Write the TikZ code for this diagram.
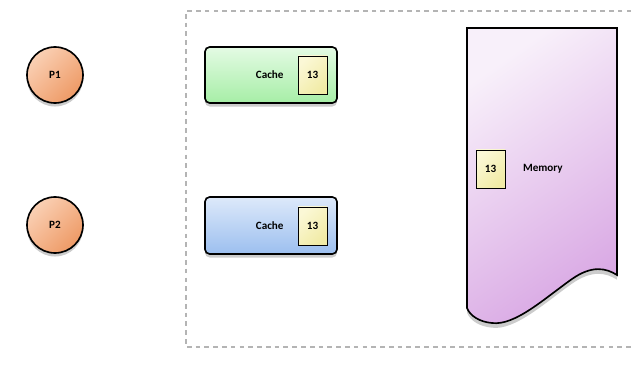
\documentclass[tikz,border=0pt]{standalone}
\usepackage{fontspec}
\setmainfont{Carlito}
\usepackage{tikz}
\usetikzlibrary{positioning}
\usetikzlibrary{shadows}

\definecolor{procA}{HTML}{FAD0B4}
\definecolor{procB}{HTML}{EE9A66}
\definecolor{greenA}{HTML}{E4FBE4}
\definecolor{greenB}{HTML}{A6EEA6}
\definecolor{blueA}{HTML}{DDE9FA}
\definecolor{blueB}{HTML}{9CBFEF}
\definecolor{memA}{HTML}{F8F0FA}
\definecolor{memB}{HTML}{D9A8E4}
\definecolor{valA}{HTML}{FBF8D6}
\definecolor{valB}{HTML}{F1EBA6}
\definecolor{frame}{HTML}{B4B4B4}

\begin{document}
\begin{tikzpicture}[x=0.03cm,y=-0.03cm,line width=1.4pt,
	font=\fontsize{9.5}{11}\selectfont\bfseries,
	proc/.style={circle, draw, minimum size=1.68cm, top color=procA, bottom color=procB, shading angle=45,
		drop shadow={shadow xshift=0pt, shadow yshift=-3pt, opacity=.4}},
	cachebox/.style={draw, rounded corners=4pt, minimum width=3.96cm, minimum height=1.68cm, shading angle=45,
		drop shadow={shadow xshift=0pt, shadow yshift=-3pt, opacity=.4}},
	value/.style={draw, line width=0.7pt, minimum width=0.87cm, minimum height=1.14cm, inner sep=0pt,
		top color=valA, bottom color=valB, shading angle=45}]

	\useasboundingbox (0,0) rectangle (634,368);

	% frame round caches and memory
	\draw[frame, line width=1pt, dash pattern=on 4pt off 3.5pt] (640,11) -- (186,11) -- (186,347) -- (640,347);

	\node[proc] (p1) at (55,75) {P1};
	\node[proc] (p2) at (55,225) {P2};

	\node[cachebox, top color=greenA, bottom color=greenB] (cache1) at (271,75) {};
	\node[value] (val1) at (312.5,75) {13};
	\node[left=8pt of val1] {Cache};

	\node[cachebox, top color=blueA, bottom color=blueB, minimum height=1.71cm] (cache2) at (271,225.5) {};
	\node[value] (val2) at (312.5,226) {13};
	\node[left=8pt of val2] {Cache};

	\path[draw, top color=memA, bottom color=memB, shading angle=35,
		drop shadow={shadow xshift=0pt, shadow yshift=-4pt, opacity=.4}]
		(467,28) -- (617,28) -- (617,275)
		.. controls (606,268) and (592,265) .. (572,279)
		.. controls (545,298) and (515,326) .. (492,323)
		.. controls (480,322) and (470,316) .. (467,308) -- cycle;
	\node[value] (val3) at (490.5,169) {13};
	\node[right=11pt of val3] (memory) {Memory};
\end{tikzpicture}
\end{document}
